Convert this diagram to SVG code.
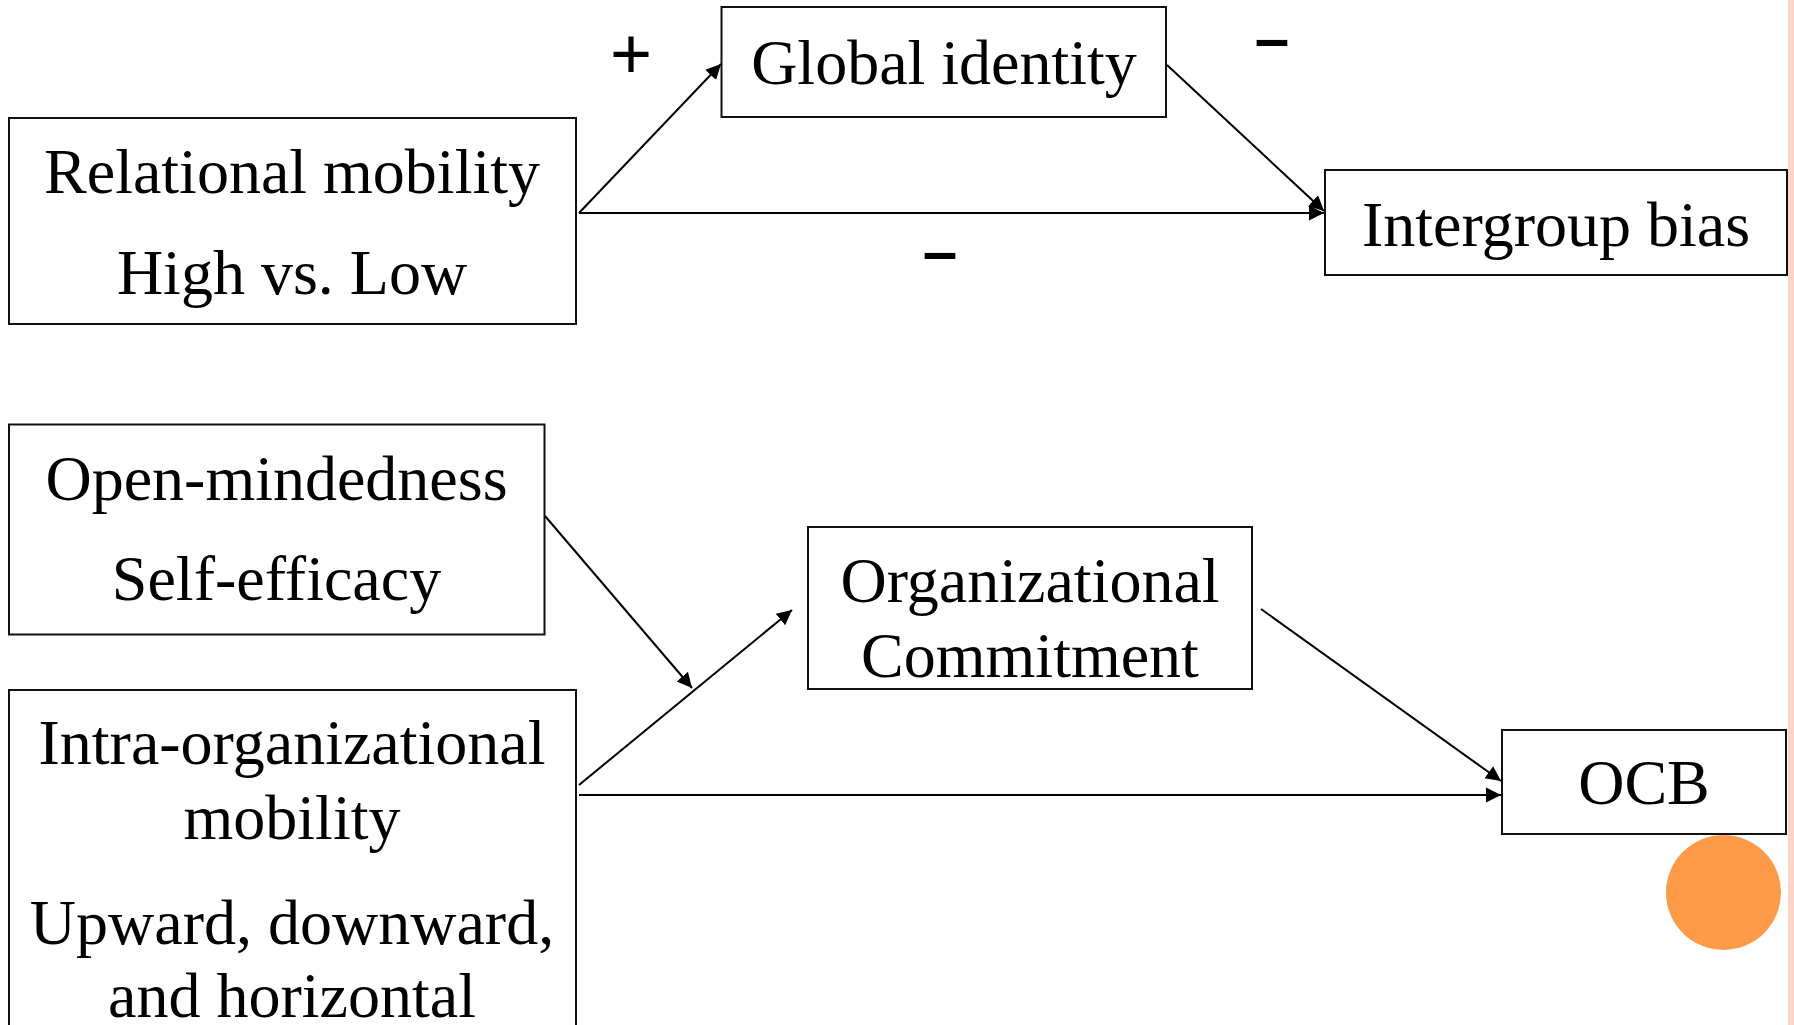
<svg xmlns="http://www.w3.org/2000/svg" width="1794" height="1025" viewBox="0 0 1794 1025">
  <defs>
    <style>
      .box { fill: #ffffff; stroke: #111111; stroke-width: 2; }
      .lbl { font-family: "Liberation Serif", "Times New Roman", serif; font-size: 64px; fill: #000000; text-anchor: middle; }
      .sign { font-family: "Liberation Sans", Arial, sans-serif; fill: #000000; text-anchor: middle; }
      .neg { font-weight: bold; font-size: 62px; }
      .edge { stroke: #000000; stroke-width: 2; fill: none; marker-end: url(#arrow); }
    </style>
    <marker id="arrow" viewBox="0 0 16 16" refX="15" refY="8" markerWidth="16" markerHeight="16" markerUnits="userSpaceOnUse" orient="auto">
      <path d="M0,0.5 L15,8 L0,15.5 Z" fill="#000000"/>
    </marker>
  </defs>

  <rect x="0" y="0" width="1794" height="1025" fill="#ffffff"/>
  <!-- slide edge strip -->
  <rect x="1788" y="0" width="6" height="1025" fill="#fcd5c8"/>

  <!-- connectors -->
  <g id="connectors">
    <line class="edge" x1="579" y1="213" x2="721" y2="64"/>
    <line class="edge" x1="579" y1="213" x2="1324" y2="213"/>
    <line class="edge" x1="1167" y1="65" x2="1324" y2="211"/>
    <line class="edge" x1="545" y1="516" x2="692" y2="688"/>
    <line class="edge" x1="579" y1="785" x2="792" y2="610"/>
    <line class="edge" x1="579" y1="795" x2="1501" y2="795"/>
    <line class="edge" x1="1261" y1="609" x2="1501" y2="781"/>
  </g>

  <!-- path signs -->
  <g id="signs">
    <text class="sign" x="631" y="78" font-size="72">+</text>
    <text class="sign neg" x="1272" y="59">–</text>
    <text class="sign neg" x="940" y="272">–</text>
  </g>

  <g id="relational-mobility">
    <rect class="box" x="9" y="118" width="567" height="206"/>
    <text class="lbl" x="292" y="193">Relational mobility</text>
    <text class="lbl" x="292" y="294">High vs. Low</text>
  </g>

  <g id="global-identity">
    <rect class="box" x="721.5" y="7" width="444.5" height="110"/>
    <text class="lbl" x="944" y="84">Global identity</text>
  </g>

  <g id="intergroup-bias">
    <rect class="box" x="1325" y="170" width="462" height="105"/>
    <text class="lbl" x="1556" y="246">Intergroup bias</text>
  </g>

  <g id="open-mindedness">
    <rect class="box" x="9" y="424.5" width="535.5" height="210"/>
    <text class="lbl" x="276.5" y="500">Open-mindedness</text>
    <text class="lbl" x="276.5" y="600">Self-efficacy</text>
  </g>

  <g id="intra-org-mobility">
    <rect class="box" x="9" y="690" width="567" height="400"/>
    <text class="lbl" x="292" y="764">Intra-organizational</text>
    <text class="lbl" x="292" y="839">mobility</text>
    <text class="lbl" x="292" y="944">Upward, downward,</text>
    <text class="lbl" x="292" y="1017">and horizontal</text>
  </g>

  <g id="org-commitment">
    <rect class="box" x="808" y="527" width="444" height="162"/>
    <text class="lbl" x="1030" y="602">Organizational</text>
    <text class="lbl" x="1030" y="677">Commitment</text>
  </g>

  <g id="ocb">
    <rect class="box" x="1502" y="730" width="284" height="104"/>
    <text class="lbl" x="1644" y="804">OCB</text>
  </g>

  <!-- decorative dot -->
  <circle cx="1723.5" cy="892.5" r="57.5" fill="#ff9b48"/>
</svg>
